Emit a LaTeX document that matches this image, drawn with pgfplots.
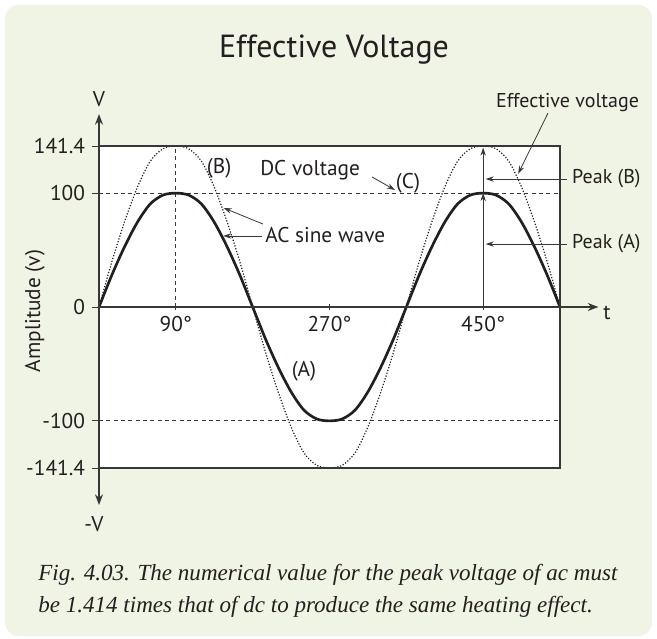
\documentclass[border=0pt]{standalone}
\usepackage{pgfplots}
\pgfplotsset{compat=1.18}
\usepackage{pgfplotstable}
\usepackage{fontspec}
\setmainfont{PT Sans}
\newfontfamily\capfont{Liberation Serif}
\usetikzlibrary{arrows.meta}
\definecolor{bgc}{RGB}{240,244,228}
\definecolor{ink}{RGB}{35,31,32}
\definecolor{linec}{RGB}{55,55,55}
\newcommand{\lbl}{\fontsize{16}{19}\selectfont}
\newcommand{\lbs}{\fontsize{15}{18}\selectfont}
\tikzset{ann/.style={linec, line width=0.6pt, -{Stealth[length=6pt,width=4pt]}}}

% deg = phase angle, a = AC sine wave (A), b = effective-voltage wave (B)
\pgfplotstableread{
deg a b
0 0 0
15 28 39.6
30 53 74.9
45 74.5 105.3
60 90.5 128.0
75 98.3 139.0
90 100 141.4
105 98.3 139.0
120 90.5 128.0
135 74.5 105.3
150 53 74.9
165 28 39.6
180 0 0
195 -28 -39.6
210 -53 -74.9
225 -74.5 -105.3
240 -90.5 -128.0
255 -98.3 -139.0
270 -100 -141.4
285 -98.3 -139.0
300 -90.5 -128.0
315 -74.5 -105.3
330 -53 -74.9
345 -28 -39.6
360 0 0
375 28 39.6
390 53 74.9
405 74.5 105.3
420 90.5 128.0
435 98.3 139.0
450 100 141.4
465 98.3 139.0
480 90.5 128.0
495 74.5 105.3
510 53 74.9
525 28 39.6
540 0 0
}\wavedata

\begin{document}
\begin{tikzpicture}
\begin{scope}[x=0.75pt,y=-0.75pt]
\fill[white] (0,0) rectangle (657,639);
\fill[bgc, rounded corners=10pt] (5,5) rectangle (652,636);
\fill[white] (99,146) rectangle (560,468);
\end{scope}
\begin{axis}[
  at={(74.25pt,-351pt)}, anchor=south west,
  scale only axis, width=345.75pt, height=241.5pt,
  xmin=0, xmax=540, ymin=-141.4, ymax=141.4,
  clip=false,
  axis x line=middle, axis y line=left,
  axis line style={draw=none},
  xtick={90,270,450}, xticklabels={90°,270°,450°},
  ytick={-141.4,-100,0,100,141.4},
  yticklabels={-141.4,-100,0,100,141.4},
  xtick align=center, ytick align=outside,
  major tick length=5pt,
  tick style={linec, line width=0.6pt},
  ticklabel style={font=\lbl, text=ink},
  xticklabel style={yshift=-1pt},
  yticklabel style={xshift=-2pt},
]
\draw[linec, line width=0.6pt, dash pattern=on 3pt off 2.5pt] (axis cs:0,100) -- (axis cs:540,100);
\draw[linec, line width=0.6pt, dash pattern=on 3pt off 2.5pt] (axis cs:0,-100) -- (axis cs:540,-100);
\draw[linec, line width=0.6pt, dash pattern=on 3pt off 2.5pt] (axis cs:90,0) -- (axis cs:90,141.4);

\addplot[ink, line width=0.9pt, dash pattern=on 0.9pt off 1.3pt, smooth] table[x=deg,y=b]{\wavedata};
\addplot[ink, line width=2pt, smooth] table[x=deg,y=a]{\wavedata};

\draw[linec, line width=1pt] (axis cs:0,-141.4) rectangle (axis cs:540,141.4);
\draw[linec, line width=1pt, -{Stealth[length=8pt,width=6pt]}] (axis cs:0,0) -- (axis cs:585,0);
\draw[linec, line width=1pt, {Stealth[length=8pt,width=6pt]}-{Stealth[length=8pt,width=6pt]}] (axis cs:0,-173.9) -- (axis cs:0,169.5);

\draw[ann] (axis cs:450,0) -- (axis cs:450,100);
\draw[ann] (axis cs:450,100) -- (axis cs:450,140);
\draw[ann] (axis cs:548,112.4) -- (axis cs:453,112.4);
\draw[ann] (axis cs:548,55.3) -- (axis cs:453,55.3);
\draw[ann] (axis cs:319.8,114.2) -- (axis cs:346.7,102.8);
\draw[ann] (axis cs:192,72.9) -- (axis cs:146,87);
\draw[ann] (axis cs:191,62.4) -- (axis cs:145.5,62.4);
\draw[ann] (axis cs:526,170.4) -- (axis cs:491,117);

\node[font=\lbl, text=ink] at (axis cs:140.6,122.1) {(B)};
\node[font=\lbl, text=ink, anchor=west, inner sep=0pt] at (axis cs:188.6,120.3) {DC voltage};
\node[font=\lbl, text=ink] at (axis cs:362,108.9) {(C)};
\node[font=\lbl, text=ink, anchor=west, inner sep=0pt] at (axis cs:194.5,63.2) {AC sine wave};
\node[font=\lbl, text=ink] at (axis cs:240.1,-56.2) {(A)};
\node[font=\lbs, text=ink, anchor=west, inner sep=0pt] at (axis cs:554,112.4) {Peak (B)};
\node[font=\lbs, text=ink, anchor=west, inner sep=0pt] at (axis cs:554,55.3) {Peak (A)};
\end{axis}
\begin{scope}[x=0.75pt,y=-0.75pt]
\node[anchor=base, text=ink, font=\fontsize{24}{28}\selectfont, inner sep=0pt] at (334,57) {Effective Voltage};
\node[anchor=base, text=ink, font=\lbl, inner sep=0pt] at (99,106) {V};
\node[anchor=base, text=ink, font=\lbl, inner sep=0pt] at (94,531) {-V};
\node[anchor=base west, text=ink, font=\lbl, inner sep=0pt] at (603,319) {t};
\node[rotate=90, text=ink, font=\lbl, inner sep=0pt] at (35,311) {Amplitude (v)};
\node[anchor=base, text=ink, font=\lbs, inner sep=0pt] at (567.5,107) {Effective voltage};
\node[anchor=base west, text=ink, font=\capfont\itshape\fontsize{17.3}{20}\selectfont, inner sep=0pt] at (38,580) {Fig. 4.03. The numerical value for the peak voltage of ac must};
\node[anchor=base west, text=ink, font=\capfont\itshape\fontsize{17.3}{20}\selectfont, inner sep=0pt] at (38,612) {be 1.414 times that of dc to produce the same heating effect.};
\end{scope}
\end{tikzpicture}
\end{document}
